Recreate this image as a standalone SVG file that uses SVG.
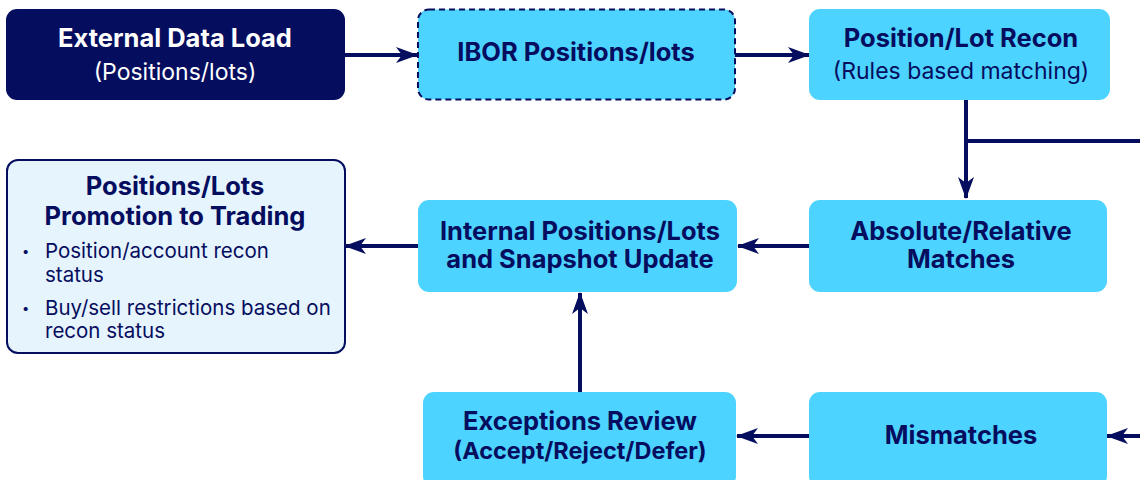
<svg xmlns="http://www.w3.org/2000/svg" width="1140" height="480" viewBox="0 0 1140 480">
<defs>
<marker id="ah" viewBox="0 0 22 16" refX="21" refY="8" markerWidth="22" markerHeight="16" markerUnits="userSpaceOnUse" orient="auto">
<path d="M0,0 L22,8 L0,16 L6,8 z" fill="#050d5e"/>
</marker>
<style>
.box{fill:#4dd3ff;}
.dark{fill:#050d5e;}
.t{font-family:Inter,"Liberation Sans",sans-serif;font-size:25.5px;font-weight:700;fill:#050d5e;text-anchor:middle;}
.s{font-family:Inter,"Liberation Sans",sans-serif;font-size:23px;font-weight:400;fill:#050d5e;text-anchor:middle;}
.b{font-family:Inter,"Liberation Sans",sans-serif;font-size:20.5px;font-weight:400;fill:#050d5e;}
.d{font-family:Inter,"Liberation Sans",sans-serif;font-size:13px;font-weight:400;fill:#050d5e;}
.w{fill:#ffffff;}
.c{fill:none;stroke:#050d5e;stroke-width:4;marker-end:url(#ah);}
.c2{fill:none;stroke:#050d5e;stroke-width:4;}
</style>
</defs>
<g id="connectors">
<line class="c" x1="345" y1="55" x2="417" y2="55"/>
<line class="c" x1="735" y1="55" x2="809" y2="55"/>
<line class="c" x1="966" y1="100" x2="966" y2="198"/>
<line class="c2" x1="966" y1="141" x2="1140" y2="141"/>
<line class="c" x1="809" y1="246" x2="738" y2="246"/>
<line class="c" x1="418" y1="246" x2="345" y2="246"/>
<line class="c" x1="580" y1="392" x2="580" y2="293"/>
<line class="c" x1="809" y1="436" x2="737" y2="436"/>
<line class="c" x1="1140" y1="436" x2="1107" y2="436"/>
</g>
<g id="external">
<rect class="dark" x="6" y="9" width="339" height="91" rx="11"/>
<text class="t w" x="175" y="47">External Data Load</text>
<text class="s w" x="175" y="80">(Positions/lots)</text>
</g>
<g id="ibor">
<rect class="box" x="418" y="9.5" width="317" height="90" rx="11" stroke="#050d5e" stroke-width="2" stroke-dasharray="6,4"/>
<text class="t" x="576" y="61">IBOR Positions/lots</text>
</g>
<g id="recon">
<rect class="box" x="809" y="9" width="301" height="91" rx="11"/>
<text class="t" x="961" y="47">Position/Lot Recon</text>
<text class="s" x="961" y="79">(Rules based matching)</text>
</g>
<g id="absolute">
<rect class="box" x="809" y="200" width="298" height="92" rx="11"/>
<text class="t" x="961" y="240">Absolute/Relative</text>
<text class="t" x="961" y="268">Matches</text>
</g>
<g id="internal">
<rect class="box" x="418" y="200" width="319" height="92" rx="11"/>
<text class="t" x="580" y="240">Internal Positions/Lots</text>
<text class="t" x="580" y="268">and Snapshot Update</text>
</g>
<g id="promotion">
<rect x="7" y="160" width="338" height="193" rx="11" fill="#e6f4fd" stroke="#050d5e" stroke-width="2"/>
<text class="t" x="175" y="195">Positions/Lots</text>
<text class="t" x="175" y="225">Promotion to Trading</text>
<text class="d" x="22" y="256">•</text>
<text class="b" x="45" y="258">Position/account recon</text>
<text class="b" x="45" y="282">status</text>
<text class="d" x="22" y="313">•</text>
<text class="b" x="45" y="315">Buy/sell restrictions based on</text>
<text class="b" x="45" y="338">recon status</text>
</g>
<g id="exceptions">
<rect class="box" x="423" y="392" width="313" height="95" rx="11"/>
<text class="t" x="580" y="430">Exceptions Review</text>
<text class="t" x="580" y="459" style="font-size:23.5px">(Accept/Reject/Defer)</text>
</g>
<g id="mismatches">
<rect class="box" x="809" y="392" width="298" height="95" rx="11"/>
<text class="t" x="961" y="444">Mismatches</text>
</g>
</svg>
